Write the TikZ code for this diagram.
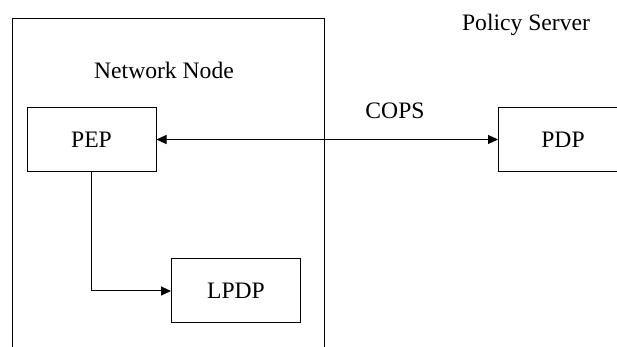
\documentclass[tikz,border=0pt]{standalone}
\usepackage{fontspec}
\setmainfont{Liberation Serif}
\usetikzlibrary{arrows.meta}
\begin{document}
\begin{tikzpicture}[x=0.5pt,y=-0.5pt,
  every node/.style={font=\fontsize{11.8pt}{14pt}\selectfont},
  box/.style={draw,line width=0.5pt,minimum width=64.5pt,minimum height=32pt,inner sep=0pt},
  label/.style={anchor=base,inner sep=0pt},
  conn/.style={line width=0.5pt,-{Triangle[length=5pt,width=4.5pt]}},
  biconn/.style={line width=0.5pt,{Triangle[length=5pt,width=4.5pt]}-{Triangle[length=5pt,width=4.5pt]}}]
\useasboundingbox (0,0) rectangle (617,347);
\clip (0,0) rectangle (617,347);
% network node enclosure, open towards the bottom
\draw[line width=0.5pt] (12,352) -- (12,19) -- (324,19) -- (324,352);
\node[label] (nn) at (164,79) {Network Node};
\node[label] (ps) at (526,31) {Policy Server};
% policy boxes
\node[box] (pep) at (91.5,139.5) {PEP};
\node[box] (pdp) at (563,139.5) {PDP};
\node[box] (lpdp) at (236,291) {LPDP};
% connectors
\draw[biconn] (pep.east) -- (pdp.west);
\node[label] (cops) at (395,119) {COPS};
\draw[conn] (pep.south) |- (lpdp.west);
\end{tikzpicture}
\end{document}
